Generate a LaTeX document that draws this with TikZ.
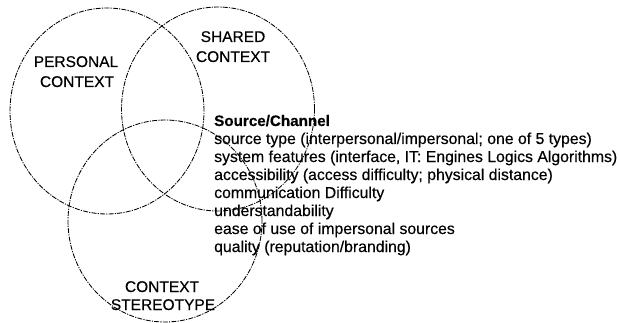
\documentclass[tikz,border=0pt]{standalone}
\usepackage{fontspec}
\setmainfont{Liberation Sans}[FakeBold=0.4]
\usetikzlibrary{shapes.geometric}
\begin{document}
\begin{tikzpicture}[x=1pt,y=-1pt,
  ring/.style={draw, ellipse, inner sep=0pt, line width=0.85pt,
    dash pattern=on 5pt off 1.2pt on 1.2pt off 1.2pt},
  caps/.style={font=\fontsize{15.5}{18}\selectfont, anchor=base, inner sep=0pt},
  item/.style={font=\fontsize{15.8}{18}\selectfont, anchor=base west, inner sep=0pt}]
\useasboundingbox (0,0) rectangle (620,323);
\node[ring, minimum width=194pt, minimum height=206pt] (personal) at (107,111) {};
\node[ring, minimum width=193pt, minimum height=204pt] (shared) at (218,109) {};
\node[ring, minimum width=194pt, minimum height=202pt] (stereo) at (165,221) {};
\node[caps] (p1) at (76,67) {PERSONAL};
\node[caps] (p2) at (77,87) {CONTEXT};
\node[caps] (s1) at (233,42) {SHARED};
\node[caps] (s2) at (233,62) {CONTEXT};
\node[caps] (c1) at (162,292) {CONTEXT};
\node[caps] (c2) at (163,310) {STEREOTYPE};
\node[item, font=\fontsize{15.2}{18}\selectfont\bfseries] (h) at (214,126) {Source/Channel};
\node[item] (i1) at (214,144) {source type (interpersonal/impersonal; one of 5 types)};
\node[item] (i2) at (214,162) {system features (interface, IT: Engines Logics Algorithms)};
\node[item] (i3) at (214,180) {accessibility (access difficulty; physical distance)};
\node[item] (i4) at (214,198) {communication Difficulty};
\node[item] (i5) at (214,216) {understandability};
\node[item] (i6) at (214,234) {ease of use of impersonal sources};
\node[item] (i7) at (214,252) {quality (reputation/branding)};
\end{tikzpicture}
\end{document}
